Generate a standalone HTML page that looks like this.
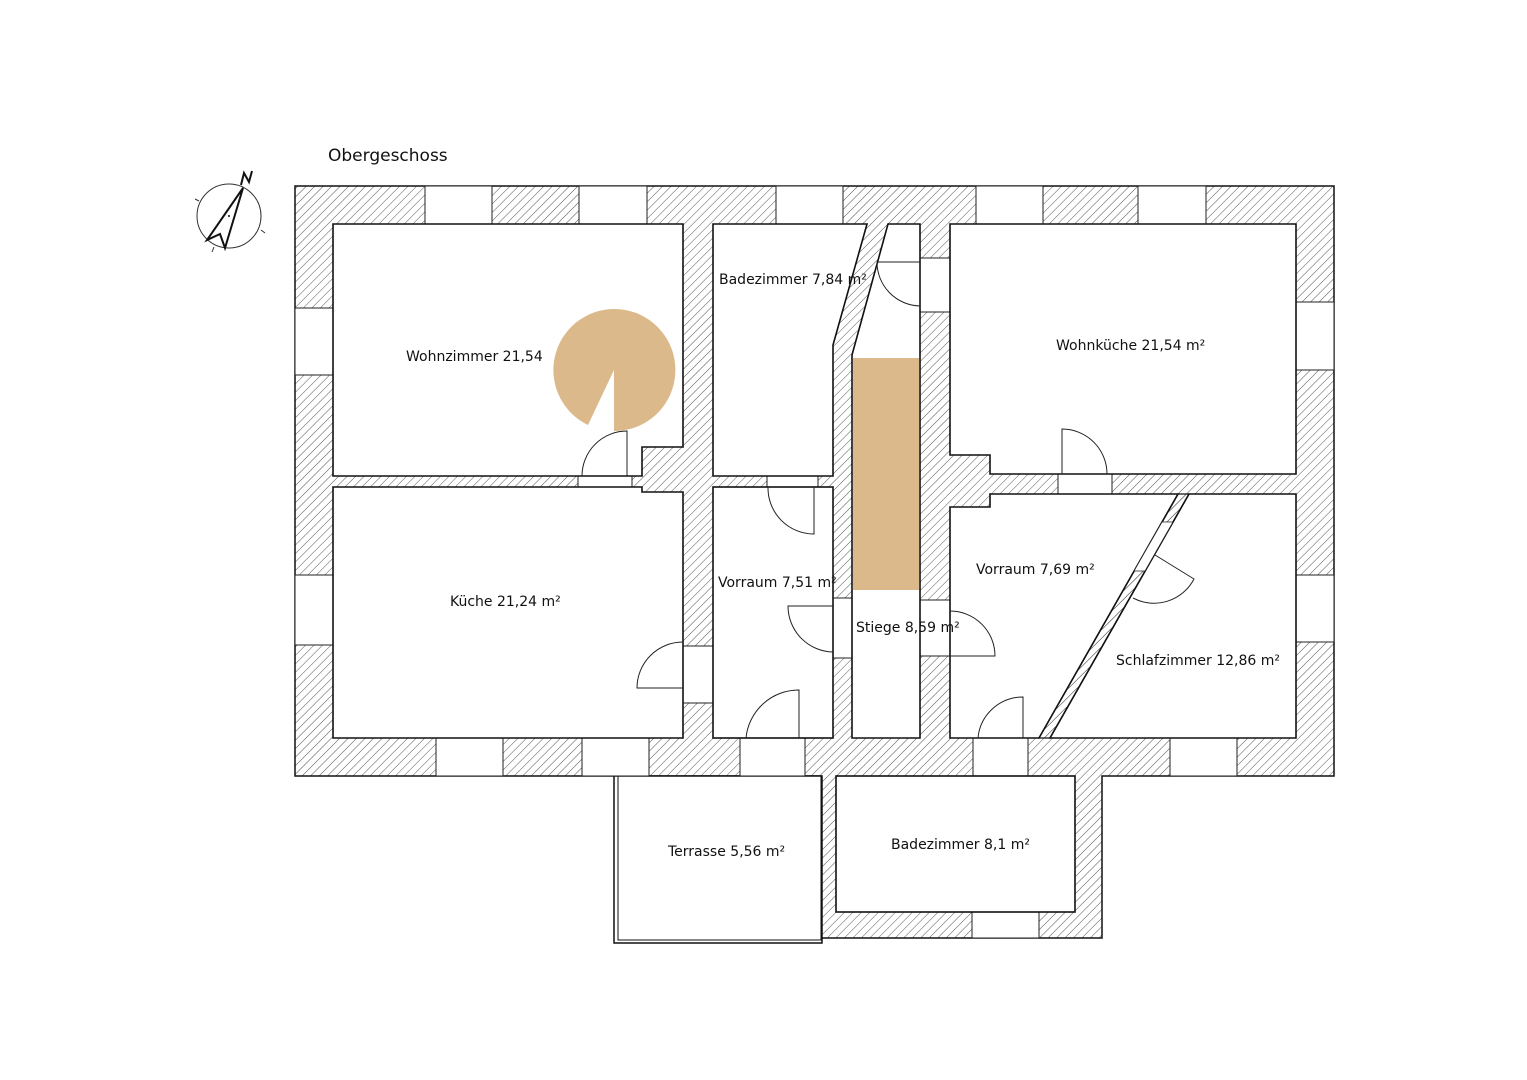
<!DOCTYPE html>
<html><head><meta charset="utf-8"><style>
html,body{margin:0;padding:0;background:#fff;}
svg{display:block;}
text{font-family:"DejaVu Sans","Liberation Sans",sans-serif;fill:#111;}
</style></head><body>
<svg width="1527" height="1080" viewBox="0 0 1527 1080" xmlns="http://www.w3.org/2000/svg">
<defs>
<pattern id="h" patternUnits="userSpaceOnUse" width="6" height="6" patternTransform="rotate(45)">
<line x1="0" y1="0" x2="0" y2="6" stroke="#555" stroke-width="1"/>
</pattern>
</defs>
<rect width="1527" height="1080" fill="#fff"/>
<text x="328" y="161" font-size="17">Obergeschoss</text>

<!-- compass -->
<circle cx="229" cy="216" r="32" fill="none" stroke="#333" stroke-width="1"/>
<line x1="195" y1="199" x2="199" y2="201" stroke="#333"/>
<line x1="261" y1="230" x2="265" y2="233" stroke="#333"/>
<line x1="214" y1="247" x2="212" y2="252" stroke="#333"/>
<polygon points="243,188 207,240 220,234 225,248" fill="none" stroke="#111" stroke-width="2"/>
<circle cx="229" cy="216" r="1" fill="#111"/>
<path d="M241,185 L244,173 L249,182 L252,171" fill="none" stroke="#111" stroke-width="2"/>

<!-- hatched walls -->
<path d="M295,186 H1334 V776 H1102 V938 H821 V776 H295 Z" fill="url(#h)" stroke="#111" stroke-width="1.5"/>
<!-- terrace -->
<rect x="614" y="776" width="208" height="167" fill="#fff" stroke="#111" stroke-width="1.5"/>
<rect x="618" y="776" width="203" height="164" fill="none" stroke="#111" stroke-width="1"/>

<!-- windows -->
<g fill="#fff" stroke="#222" stroke-width="1">
<rect x="425" y="186" width="67" height="38"/>
<rect x="579" y="186" width="68" height="38"/>
<rect x="776" y="186" width="67" height="38"/>
<rect x="976" y="186" width="67" height="38"/>
<rect x="1138" y="186" width="68" height="38"/>
<rect x="295" y="308" width="38" height="67"/>
<rect x="295" y="575" width="38" height="70"/>
<rect x="1296" y="302" width="38" height="68"/>
<rect x="1296" y="575" width="38" height="67"/>
<rect x="436" y="738" width="67" height="38"/>
<rect x="582" y="738" width="67" height="38"/>
<rect x="1170" y="738" width="67" height="38"/>
<rect x="972" y="912" width="67" height="26"/>
<!-- door openings -->
<rect x="578" y="476" width="54" height="11"/>
<rect x="767" y="476" width="51" height="11"/>
<rect x="683" y="646" width="30" height="57"/>
<rect x="833" y="598" width="19" height="60"/>
<rect x="740" y="738" width="65" height="38"/>
<rect x="920" y="258" width="30" height="54"/>
<rect x="920" y="600" width="30" height="56"/>
<rect x="973" y="738" width="55" height="38"/>
<rect x="1058" y="474" width="54" height="20"/>
</g>

<!-- rooms -->
<g fill="#fff" stroke="#111" stroke-width="1.6">
<path d="M333,224 H683 V447 H642 V476 H333 Z"/>
<path d="M333,487 H642 V492 H683 V738 H333 Z"/>
<path d="M713,224 H867 L833,345 V476 H713 Z"/>
<path d="M888,224 H920 V738 H852 V355 Z"/>
<rect x="713" y="487" width="120" height="251"/>
<path d="M950,224 H1296 V474 H990 V455 H950 Z"/>
<path d="M990,494 H1178 L1039,738 H950 V507 H990 Z"/>
<path d="M1189,494 H1296 V738 H1050 Z"/>
<rect x="836" y="776" width="239" height="136"/>
</g>
<!-- slanted wall hatch -->
<polygon points="1178,494 1189,494 1050,738 1039,738" fill="url(#h)" stroke="#111" stroke-width="1.2"/>
<polygon points="1162,522 1173,522 1145,571 1134,571" fill="#fff" stroke="#222" stroke-width="0.8"/>

<!-- stairs -->
<rect x="853" y="358" width="66" height="232" fill="#dcb98a"/>
<path d="M614,370 L614,431 A61,61 0 1 0 588,425 Z" fill="#dcb98a"/>

<!-- doors -->
<g fill="none" stroke="#222" stroke-width="1">
<path d="M627,476 V431 A45,45 0 0 0 582,476"/>
<path d="M814,487 V534 A46,46 0 0 1 768,487"/>
<path d="M683,688 H637 A46,46 0 0 1 683,642"/>
<path d="M833,606 H788 A46,46 0 0 0 833,652"/>
<path d="M799,738 V690 A53,53 0 0 0 746,738"/>
<path d="M920,262 H877 A44,44 0 0 0 920,306"/>
<path d="M950,656 H995 A45,45 0 0 0 950,611"/>
<path d="M1023,738 V697 A45,45 0 0 0 978,738"/>
<path d="M1062,474 V429 A45,45 0 0 1 1107,474"/>
<path d="M1155,555 L1194,579 A45,45 0 0 1 1133,598"/>
</g>

<!-- labels -->
<g font-size="14">
<text x="406" y="361">Wohnzimmer 21,54</text>
<text x="719" y="284">Badezimmer 7,84 m²</text>
<text x="1056" y="350">Wohnküche 21,54 m²</text>
<text x="450" y="606">Küche 21,24 m²</text>
<text x="718" y="587">Vorraum 7,51 m²</text>
<text x="976" y="574">Vorraum 7,69 m²</text>
<text x="856" y="632">Stiege 8,59 m²</text>
<text x="1116" y="665">Schlafzimmer 12,86 m²</text>
<text x="668" y="856">Terrasse 5,56 m²</text>
<text x="891" y="849">Badezimmer 8,1 m²</text>
</g>
</svg>
</body></html>
